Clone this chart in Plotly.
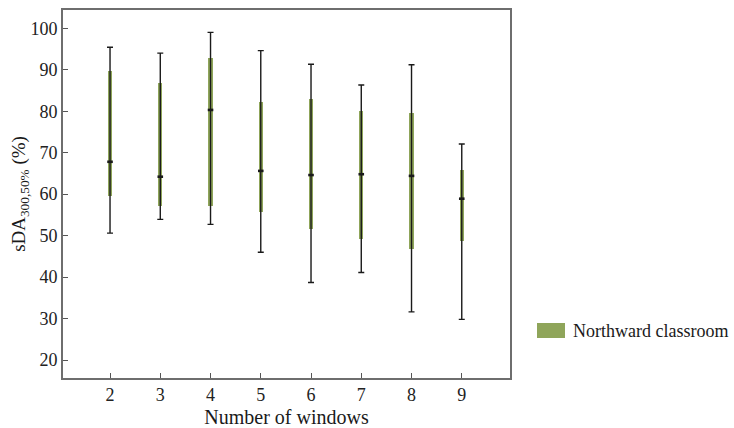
import plotly.graph_objects as go

# Box statistics of sDA300,50% for each number of windows
windows = [2, 3, 4, 5, 6, 7, 8, 9]
lower = [50.6, 53.9, 52.7, 46.0, 38.7, 41.1, 31.6, 29.8]
q1 = [59.6, 57.1, 57.1, 55.8, 51.5, 49.3, 46.8, 48.8]
median = [67.8, 64.2, 80.3, 65.6, 64.6, 64.8, 64.4, 58.9]
q3 = [89.8, 86.7, 92.8, 82.3, 82.9, 80.1, 79.6, 65.8]
upper = [95.4, 94.0, 99.0, 94.6, 91.3, 86.3, 91.2, 72.1]

series_name = "Northward classroom"
green = "#8fa55a"
ink = "#1a1a1a"
serif = "Liberation Serif, Times New Roman, serif"

fig = go.Figure()

# whiskers with end caps
fig.add_trace(go.Scatter(
    x=windows, y=median, mode="markers",
    marker=dict(size=1, color=ink),
    error_y=dict(type="data", symmetric=False,
                 array=[u - m for u, m in zip(upper, median)],
                 arrayminus=[m - l for m, l in zip(median, lower)],
                 color=ink, thickness=1.4, width=3),
    showlegend=False, hoverinfo="skip",
))

# interquartile boxes
fig.add_trace(go.Bar(
    x=windows, base=q1, y=[b - a for a, b in zip(q1, q3)],
    width=0.085, marker=dict(color=green, line=dict(width=0)),
    name=series_name, showlegend=False,
))

# medians
fig.add_trace(go.Scatter(
    x=windows, y=median, mode="markers",
    marker=dict(symbol="line-ew", size=4, line=dict(width=2.6, color=ink)),
    showlegend=False,
))

# legend key
fig.add_shape(type="rect", xref="paper", yref="paper",
              x0=(537 - 63) / 447, x1=(565 - 63) / 447,
              y0=(378 - 338) / 368, y1=(378 - 323) / 368,
              fillcolor=green, line=dict(width=0))
fig.add_annotation(text=series_name, xref="paper", yref="paper",
                   x=(571 - 63) / 447, y=(378 - 330.5) / 368,
                   xanchor="left", yanchor="middle", showarrow=False,
                   font=dict(family=serif, size=18, color=ink))

axis_common = dict(
    showline=True, mirror=True, linecolor="#6e6e6e", linewidth=1.6,
    ticks="inside", ticklen=5, tickwidth=1.3, tickcolor="#555555",
    showgrid=False, zeroline=False,
    tickfont=dict(family=serif, size=18, color="#222222"),
)

fig.update_xaxes(
    range=[1.064, 9.96], tickmode="array", tickvals=windows,
    title=dict(text="Number of windows", font=dict(family=serif, size=20, color=ink), standoff=8),
    **axis_common,
)
fig.update_yaxes(
    range=[15.66, 104.4], tickmode="array", tickvals=list(range(20, 101, 10)),
    title=dict(text="sDA<sub>300,50%</sub> (%)", font=dict(family=serif, size=19, color=ink), standoff=0),
    **axis_common,
)

fig.update_layout(
    width=734, height=428,
    margin=dict(l=63, r=224, t=10, b=50, autoexpand=False),
    paper_bgcolor="white", plot_bgcolor="white",
    bargap=0,
)

fig.write_html("out.html")
